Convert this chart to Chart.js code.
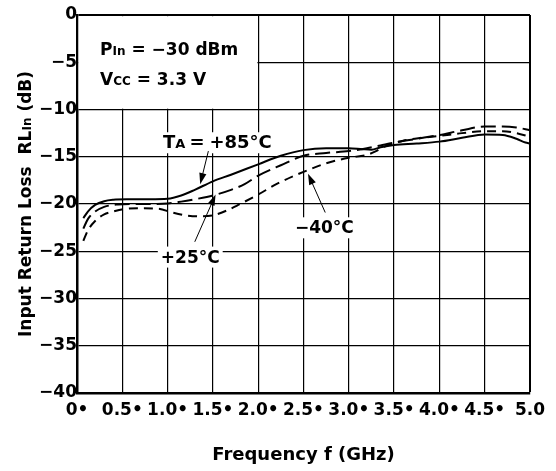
<!DOCTYPE html>
<html>
<head>
<meta charset="utf-8">
<script src="https://cdn.jsdelivr.net/npm/chart.js@4.4.1/dist/chart.umd.min.js"></script>
<style>
  html, body { margin: 0; padding: 0; background: #fff; }
  canvas { display: block; }
</style>
</head>
<body>
<canvas id="rlChart" width="556" height="471"></canvas>
<script>
// input return loss vs frequency, three ambient temperatures
const xTickLabels = ['0•', '0.5•', '1.0•', '1.5•', '2.0•', '2.5•', '3.0•', '3.5•', '4.0•', '4.5•', '5.0'];

const freq85 = [0.07, 0.12, 0.2, 0.3, 0.4, 0.55, 0.8, 1.0, 1.15, 1.3, 1.5, 1.7, 2.0, 2.25, 2.5, 2.75, 3.0, 3.15, 3.25, 3.35, 3.5, 3.75, 4.0, 4.25, 4.5, 4.7, 4.85, 4.95, 5.0];
const rl85 = [-21.5, -20.8, -20.1, -19.7, -19.55, -19.5, -19.5, -19.45, -19.1, -18.5, -17.6, -16.9, -15.8, -14.9, -14.3, -14.1, -14.1, -14.2, -14.25, -14.0, -13.75, -13.6, -13.4, -13.0, -12.65, -12.7, -13.1, -13.5, -13.6];

const freq25 = [0.07, 0.12, 0.2, 0.3, 0.45, 0.6, 0.8, 1.0, 1.15, 1.3, 1.5, 1.7, 1.85, 2.0, 2.25, 2.5, 2.75, 3.0, 3.2, 3.35, 3.5, 3.75, 4.0, 4.25, 4.5, 4.7, 4.85, 5.0];
const rl25 = [-22.6, -21.6, -20.8, -20.3, -20.05, -20.0, -20.0, -19.95, -19.75, -19.5, -19.1, -18.5, -17.9, -17.0, -15.9, -14.9, -14.6, -14.4, -14.1, -13.8, -13.5, -13.1, -12.7, -12.2, -11.8, -11.8, -11.9, -12.2];

const freqM40 = [0.07, 0.12, 0.2, 0.3, 0.4, 0.55, 0.7, 0.9, 1.05, 1.2, 1.35, 1.5, 1.65, 1.8, 2.0, 2.2, 2.5, 2.75, 3.0, 3.2, 3.3, 3.4, 3.6, 3.8, 4.0, 4.25, 4.5, 4.7, 4.85, 5.0];
const rlM40 = [-23.9, -22.8, -21.8, -21.1, -20.8, -20.5, -20.45, -20.5, -20.9, -21.2, -21.3, -21.2, -20.7, -20.0, -19.0, -17.9, -16.6, -15.7, -15.1, -14.8, -14.4, -13.9, -13.3, -13.0, -12.8, -12.5, -12.3, -12.3, -12.5, -12.9];

const FONT = "'DejaVu Sans', sans-serif";

function toPoints(xs, ys) {
    return xs.map((x, i) => ({ x: x, y: ys[i] }));
}

function curve(label, xs, ys, dash) {
    return {
        label: label,
        data: toPoints(xs, ys),
        borderColor: '#000',
        borderWidth: 2,
        borderDash: dash,
        pointRadius: 0,
        cubicInterpolationMode: 'monotone',
        fill: false
    };
}

// text made of runs; small runs sit on the same baseline (subscript style),
// gap adds a few pixels before the run
function runWidth(ctx, runs) {
    let w = 0;
    runs.forEach(r => {
        ctx.font = 'bold ' + r.size + 'px ' + FONT;
        w += (r.gap || 0) + ctx.measureText(r.t).width;
    });
    return w;
}

function drawRuns(ctx, runs, x, y) {
    ctx.textBaseline = 'alphabetic';
    ctx.textAlign = 'left';
    runs.forEach(r => {
        ctx.font = 'bold ' + r.size + 'px ' + FONT;
        x += r.gap || 0;
        ctx.fillText(r.t, x, y);
        x += ctx.measureText(r.t).width;
    });
}

function arrow(ctx, x0, y0, x1, y1) {
    const ang = Math.atan2(y1 - y0, x1 - x0);
    const len = 11, half = 3.6;
    ctx.beginPath();
    ctx.moveTo(x0, y0);
    ctx.lineTo(x1 - Math.cos(ang) * len * 0.8, y1 - Math.sin(ang) * len * 0.8);
    ctx.lineWidth = 1;
    ctx.stroke();
    ctx.beginPath();
    ctx.moveTo(x1, y1);
    ctx.lineTo(x1 - Math.cos(ang) * len - Math.sin(ang) * half, y1 - Math.sin(ang) * len + Math.cos(ang) * half);
    ctx.lineTo(x1 - Math.cos(ang) * len + Math.sin(ang) * half, y1 - Math.sin(ang) * len - Math.cos(ang) * half);
    ctx.closePath();
    ctx.fill();
}

const notes = {
    id: 'notes',
    beforeDatasetsDraw(chart) {
        const { ctx, scales: { x, y } } = chart;
        ctx.save();
        ctx.fillStyle = '#fff';
        // blank cell for the test conditions
        const l = x.getPixelForValue(0) + 1.5, r = x.getPixelForValue(2) - 0.8;
        const t = y.getPixelForValue(0) + 1.2, b = y.getPixelForValue(-10) - 0.8;
        ctx.fillRect(l, t, r - l, b - t);
        ctx.restore();
    },
    afterDatasetsDraw(chart) {
        const { ctx, scales: { x, y }, chartArea } = chart;
        ctx.save();
        ctx.fillStyle = '#000';
        ctx.strokeStyle = '#000';

        // test conditions
        drawRuns(ctx, [{ t: 'P', size: 17 }, { t: 'In', size: 12 }, { t: ' = −30 dBm', size: 17 }],
            x.getPixelForValue(0.254), y.getPixelForValue(-4.23));
        drawRuns(ctx, [{ t: 'V', size: 17 }, { t: 'CC', size: 12 }, { t: ' = 3.3 V', size: 17 }],
            x.getPixelForValue(0.254), y.getPixelForValue(-7.4));

        // curve labels with white backing
        const labels = [
            { runs: [{ t: 'T', size: 18 }, { t: 'A', size: 13 }, { t: '=', size: 18, gap: 4 }, { t: '+85°C', size: 18, gap: 5 }], fx: 0.95, fy: -14.1, left: true },
            { runs: [{ t: '+25°C', size: 17 }], fx: 1.25, fy: -26.2 },
            { runs: [{ t: '−40°C', size: 17 }], fx: 2.73, fy: -23.1 }
        ];
        labels.forEach(lb => {
            const w = runWidth(ctx, lb.runs);
            const px = lb.left ? x.getPixelForValue(lb.fx) : x.getPixelForValue(lb.fx) - w / 2;
            const py = y.getPixelForValue(lb.fy);
            ctx.fillStyle = '#fff';
            ctx.fillRect(px - 3, py - 16, w + 6, 21);
            ctx.fillStyle = '#000';
            drawRuns(ctx, lb.runs, px, py);
        });

        // leader arrows
        const arrows = [
            [1.45, -14.4, 1.36, -17.9],
            [1.30, -24.0, 1.53, -19.0],
            [2.74, -20.9, 2.55, -16.8]
        ];
        arrows.forEach(a => arrow(ctx, x.getPixelForValue(a[0]), y.getPixelForValue(a[1]),
            x.getPixelForValue(a[2]), y.getPixelForValue(a[3])));

        // axis titles
        const xt = [{ t: 'Frequency f (GHz)', size: 18 }];
        const xw = runWidth(ctx, xt);
        drawRuns(ctx, xt, (chartArea.left + chartArea.right) / 2 - xw / 2, 460);

        const yt = [{ t: 'Input Return Loss  RL', size: 17 }, { t: 'In', size: 12 }, { t: ' (dB)', size: 17 }];
        const yw = runWidth(ctx, yt);
        ctx.translate(31, (chartArea.top + chartArea.bottom) / 2);
        ctx.rotate(-Math.PI / 2);
        drawRuns(ctx, yt, -yw / 2, 0);
        ctx.restore();
    }
};

const edgeWidth = (ctx, edge) => (ctx.tick && ctx.tick.value === edge ? 2 : 1.2);

new Chart(document.getElementById('rlChart').getContext('2d'), {
    type: 'line',
    data: {
        datasets: [
            curve('+85°C', freq85, rl85, []),
            curve('+25°C', freq25, rl25, [15, 6]),
            curve('-40°C', freqM40, rlM40, [9, 6])
        ]
    },
    options: {
        responsive: false,
        animation: false,
        layout: { padding: { left: 0, right: 26, top: 15, bottom: 0 } },
        plugins: {
            legend: { display: false },
            tooltip: { enabled: false }
        },
        scales: {
            x: {
                type: 'linear',
                min: 0,
                max: 5,
                afterFit: s => { s.height = 78; },
                ticks: {
                    stepSize: 0.5,
                    autoSkip: false,
                    maxRotation: 0,
                    padding: 7,
                    color: '#000',
                    font: { family: FONT, size: 17, weight: 'bold' },
                    callback: (v, i) => xTickLabels[i]
                },
                grid: { color: '#000', lineWidth: c => edgeWidth(c, 5), drawTicks: false },
                border: { color: '#000', width: 2.5 }
            },
            y: {
                min: -40,
                max: 0,
                afterFit: s => { s.width = 77; },
                ticks: {
                    stepSize: 5,
                    padding: 0,
                    color: '#000',
                    font: { family: FONT, size: 17, weight: 'bold' },
                    callback: v => String(v).replace('-', '−')
                },
                grid: { color: '#000', lineWidth: c => edgeWidth(c, 0), drawTicks: false },
                border: { color: '#000', width: 2.5 }
            }
        }
    },
    plugins: [notes]
});
</script>
</body>
</html>
